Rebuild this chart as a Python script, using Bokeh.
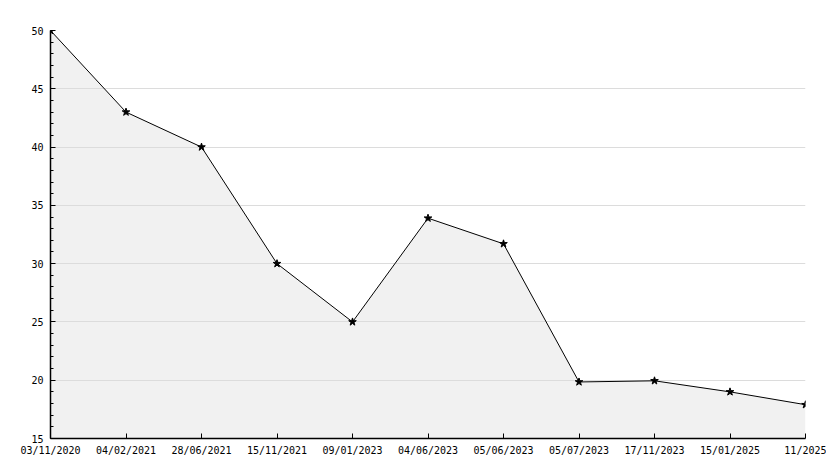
from bokeh.plotting import figure
from bokeh.models import FixedTicker, SingleIntervalTicker, Range1d
from bokeh.embed import file_html
from bokeh.resources import INLINE

dates = ["03/11/2020", "04/02/2021", "28/06/2021", "15/11/2021", "09/01/2023",
         "04/06/2023", "05/06/2023", "05/07/2023", "17/11/2023", "15/01/2025", "11/2025"]
values = [50, 43, 40, 30, 25, 33.9, 31.7, 19.85, 19.95, 19.0, 17.9]
y_min, y_max = 15, 50

xs = list(range(len(dates)))

p = figure(width=826, height=460, output_backend="svg", toolbar_location=None,
           x_range=Range1d(0, len(dates) - 1), y_range=Range1d(y_min, y_max),
           min_border_left=50, min_border_right=21, min_border_top=30, min_border_bottom=22)
p.outline_line_color = None
p.background_fill_color = "white"

fill = p.varea(x=xs, y1=[y_min] * len(xs), y2=values, fill_color="#f1f1f1")
fill.level = "image"
p.line(xs, values, line_color="black", line_width=1)
p.scatter(xs, values, marker="star", size=8, fill_color="black", line_color="black")

font = "DejaVu Sans Mono"
p.xaxis.ticker = FixedTicker(ticks=xs)
p.xaxis.major_label_overrides = {i: d for i, d in enumerate(dates)}
p.yaxis.ticker = SingleIntervalTicker(interval=5, num_minor_ticks=5)

for ax in (p.xaxis, p.yaxis):
    ax.axis_line_color = "black"
    ax.axis_line_width = 1.5
    ax.major_tick_line_color = "black"
    ax.minor_tick_line_color = "black"
    ax.major_tick_in = 5
    ax.major_tick_out = 0
    ax.minor_tick_in = 3
    ax.minor_tick_out = 0
    ax.major_label_text_font = font
    ax.major_label_text_font_size = "10px"
    ax.major_label_text_color = "black"
p.xaxis.minor_tick_line_color = None
p.xaxis.major_label_standoff = 6
p.yaxis.major_label_standoff = 7

p.xgrid.grid_line_color = None
p.ygrid.grid_line_color = "#dcdcdc"
p.ygrid.grid_line_width = 1

open("out.html", "w").write(file_html(p, INLINE))
